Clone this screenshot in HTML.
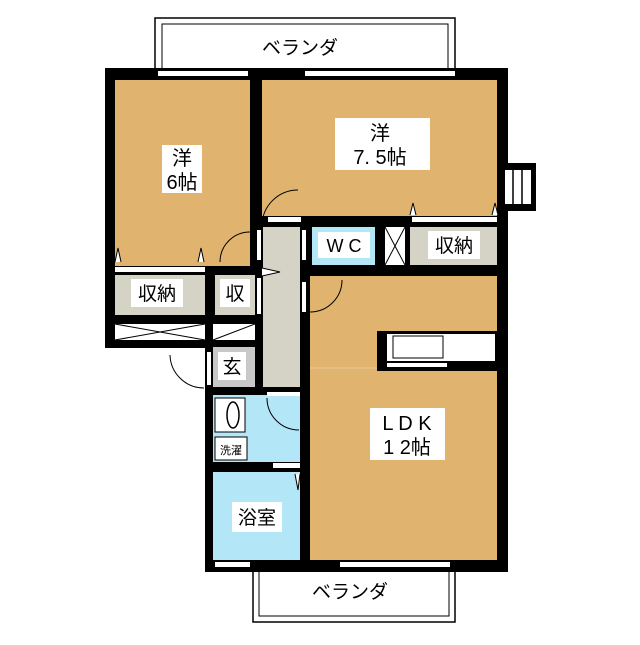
<!DOCTYPE html>
<html><head><meta charset="utf-8"><style>
body{margin:0;background:#fff}
text{font-family:"Liberation Sans","Noto Sans CJK JP",sans-serif;fill:#000}
</style></head><body>
<svg width="640" height="640" viewBox="0 0 640 640" xmlns="http://www.w3.org/2000/svg">
<!-- verandas -->
<rect x="155" y="18" width="300" height="52" fill="#fff" stroke="#000" stroke-width="1.5"/>
<rect x="162" y="24" width="286" height="46" fill="none" stroke="#000" stroke-width="1"/>
<rect x="253" y="570" width="202" height="52" fill="#fff" stroke="#000" stroke-width="1.5"/>
<rect x="259" y="570" width="190" height="46" fill="none" stroke="#000" stroke-width="1"/>
<rect x="240" y="34" width="120" height="26" fill="#fff"/>
<text x="300" y="54" font-size="19" text-anchor="middle">ベランダ</text>
<rect x="290" y="578" width="120" height="26" fill="#fff"/>
<text x="350" y="598" font-size="19" text-anchor="middle">ベランダ</text>
<!-- walls base -->
<rect x="105" y="68" width="403" height="280" fill="#000"/>
<rect x="205" y="340" width="303" height="232" fill="#000"/>
<!-- bump -->
<rect x="500" y="163" width="36" height="48" fill="#000"/>
<rect x="505" y="170" width="26" height="34" fill="#fff"/>
<line x1="513" y1="170" x2="513" y2="204" stroke="#000" stroke-width="1.5"/>
<line x1="522" y1="170" x2="522" y2="204" stroke="#000" stroke-width="1.5"/>
<!-- rooms -->
<rect x="115" y="80" width="135" height="186" fill="#e0b46e"/>
<rect x="262" y="80" width="235" height="136" fill="#e0b46e"/>
<rect x="310" y="276" width="187" height="284" fill="#e0b46e"/>
<line x1="310" y1="368" x2="497" y2="368" stroke="#eccd98" stroke-width="1"/>
<!-- hallway -->
<rect x="263" y="227" width="37" height="160" fill="#d5d2c6"/>
<!-- closets -->
<rect x="115" y="275" width="90" height="40" fill="#d5d2c6"/>
<rect x="215" y="275" width="40" height="40" fill="#d5d2c6"/>
<rect x="410" y="227" width="87" height="38" fill="#d5d2c6"/>
<rect x="312" y="227" width="63" height="38" fill="#b3e6f6"/>
<rect x="385" y="227" width="20" height="38" fill="#fff"/>
<path d="M385 227 L405 265 M405 227 L385 265" stroke="#000" stroke-width="1"/>
<rect x="115" y="324" width="90" height="16" fill="#fff"/>
<path d="M115 324 L205 340 M205 324 L115 340" stroke="#000" stroke-width="1"/>
<rect x="213" y="324" width="42" height="16" fill="#fff"/>
<path d="M213 340 L255 324" stroke="#000" stroke-width="1"/>
<!-- genkan -->
<rect x="213" y="347" width="42" height="40" fill="#c8c8c8"/>
<!-- wash / bath -->
<rect x="213" y="395" width="87" height="67" fill="#b3e6f6"/>
<rect x="213" y="472" width="87" height="88" fill="#b3e6f6"/>
<rect x="215" y="398" width="30" height="34" fill="#fff" stroke="#000"/>
<ellipse cx="233" cy="415" rx="6" ry="13" fill="none" stroke="#000" stroke-width="1.5"/>
<rect x="215" y="437" width="32" height="23" fill="#fff" stroke="#000"/>
<text x="231" y="454" font-size="11" text-anchor="middle">洗濯</text>
<!-- window gaps -->
<rect x="158" y="71" width="45" height="5" fill="#fff"/><rect x="203" y="71" width="45" height="5" fill="#fff"/>
<rect x="305" y="71" width="80" height="5" fill="#fff"/><rect x="385" y="71" width="70" height="5" fill="#fff"/>
<rect x="115" y="267" width="90" height="5" fill="#fff"/>
<rect x="412" y="217" width="85" height="5" fill="#fff"/>
<rect x="268" y="217" width="33" height="5" fill="#fff"/>
<rect x="267" y="392" width="33" height="4" fill="#fff"/>
<rect x="273" y="463" width="27" height="5" fill="#fff"/>
<rect x="215" y="562" width="35" height="5" fill="#fff"/>
<rect x="340" y="562" width="110" height="5" fill="#fff"/>
<rect x="257" y="230" width="4" height="30" fill="#fff"/><rect x="257" y="278" width="4" height="36" fill="#fff"/>
<rect x="302" y="230" width="4" height="30" fill="#fff"/><rect x="302" y="282" width="4" height="30" fill="#fff"/>
<rect x="207" y="352" width="4" height="33" fill="#fff"/>
<!-- doors -->
<path d="M262 225 A36 36 0 0 1 298 190" fill="none" stroke="#000"/>
<path d="M220 262 A30 30 0 0 1 250 232" fill="none" stroke="#000"/>
<path d="M310 312 A32 32 0 0 0 342 280" fill="none" stroke="#000"/>
<path d="M170 355 A34 34 0 0 0 204 388" fill="none" stroke="#000"/>
<path d="M267 398 A32 32 0 0 0 299 430" fill="none" stroke="#000"/>
<path d="M262 268 L280 272 L262 276" fill="#fff" stroke="#000"/>
<path d="M115 262 L118 248 L121 262" fill="#fff" stroke="#000"/>
<path d="M198 262 L201 248 L204 262" fill="#fff" stroke="#000"/>
<path d="M410 215 L413 203 L416 215" fill="#fff" stroke="#000"/>
<path d="M492 215 L495 203 L498 215" fill="#fff" stroke="#000"/>
<path d="M295 474 L298 490 L300 474" fill="#fff" stroke="#000"/>
<!-- kitchen -->
<rect x="377" y="331" width="120" height="40" fill="#000"/>
<rect x="387" y="334" width="108" height="27" fill="#fff"/>
<rect x="393" y="336" width="50" height="22" fill="#fff" stroke="#000"/>
<rect x="387" y="363" width="60" height="4" fill="#fff"/>
<!-- labels -->
<rect x="162" y="145" width="40" height="48" fill="#fff"/>
<text x="182" y="165" font-size="20" text-anchor="middle">洋</text>
<text x="182" y="189" font-size="20" text-anchor="middle">6帖</text>
<rect x="335" y="118" width="95" height="52" fill="#fff"/>
<text x="380" y="140" font-size="20" text-anchor="middle">洋</text>
<text x="380" y="164" font-size="20" text-anchor="middle">7. 5帖</text>
<rect x="318" y="232" width="52" height="26" fill="#fff"/>
<text x="344" y="252" font-size="18" text-anchor="middle">W C</text>
<rect x="428" y="231" width="52" height="28" fill="#fff"/>
<text x="454" y="252" font-size="19" text-anchor="middle">収納</text>
<rect x="131" y="279" width="52" height="28" fill="#fff"/>
<text x="157" y="300" font-size="19" text-anchor="middle">収納</text>
<rect x="220" y="279" width="30" height="28" fill="#fff"/>
<text x="235" y="300" font-size="19" text-anchor="middle">収</text>
<rect x="218" y="352" width="28" height="28" fill="#fff"/>
<text x="232" y="373" font-size="19" text-anchor="middle">玄</text>
<rect x="232" y="502" width="50" height="30" fill="#fff"/>
<text x="257" y="524" font-size="19" text-anchor="middle">浴室</text>
<rect x="370" y="408" width="75" height="52" fill="#fff"/>
<text x="407" y="430" font-size="20" text-anchor="middle">L D K</text>
<text x="407" y="454" font-size="20" text-anchor="middle">1 2帖</text>
</svg>
</body></html>
